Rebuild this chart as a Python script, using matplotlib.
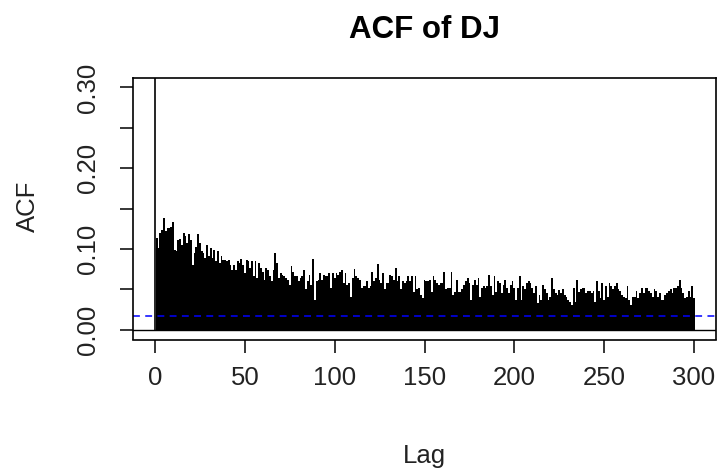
import numpy as np
import matplotlib
matplotlib.use("Agg")
import matplotlib.pyplot as plt

plt.rcParams['font.family'] = ['Liberation Sans', 'DejaVu Sans']

title = "ACF of DJ"
xlabel = "Lag"
ylabel = "ACF"
ci_level = 0.0165
acf_lag0 = 1.0
acf_values = [
    0.114, 0.101, 0.120, 0.124, 0.139, 0.122, 0.126, 0.126, 0.127, 0.133,
    0.099, 0.097, 0.111, 0.113, 0.105, 0.120, 0.116, 0.107, 0.118, 0.111,
    0.080, 0.095, 0.103, 0.118, 0.107, 0.097, 0.095, 0.089, 0.105, 0.091,
    0.101, 0.089, 0.099, 0.085, 0.097, 0.083, 0.091, 0.087, 0.087, 0.085,
    0.087, 0.080, 0.074, 0.080, 0.074, 0.085, 0.083, 0.088, 0.080, 0.070,
    0.087, 0.085, 0.076, 0.085, 0.066, 0.085, 0.064, 0.083, 0.076, 0.072,
    0.062, 0.076, 0.074, 0.066, 0.060, 0.074, 0.095, 0.083, 0.064, 0.070,
    0.068, 0.066, 0.064, 0.062, 0.056, 0.079, 0.072, 0.066, 0.066, 0.060,
    0.064, 0.066, 0.074, 0.050, 0.060, 0.068, 0.056, 0.088, 0.037, 0.060,
    0.062, 0.070, 0.062, 0.068, 0.066, 0.066, 0.070, 0.052, 0.070, 0.064,
    0.070, 0.068, 0.072, 0.074, 0.058, 0.070, 0.056, 0.058, 0.041, 0.064,
    0.075, 0.066, 0.064, 0.062, 0.052, 0.054, 0.054, 0.060, 0.052, 0.054,
    0.072, 0.060, 0.064, 0.081, 0.062, 0.058, 0.070, 0.050, 0.058, 0.058,
    0.068, 0.066, 0.062, 0.077, 0.060, 0.066, 0.050, 0.060, 0.058, 0.060,
    0.066, 0.060, 0.066, 0.047, 0.066, 0.050, 0.052, 0.043, 0.039, 0.062,
    0.060, 0.060, 0.062, 0.047, 0.066, 0.062, 0.058, 0.056, 0.058, 0.058,
    0.072, 0.050, 0.052, 0.052, 0.072, 0.043, 0.047, 0.062, 0.047, 0.047,
    0.050, 0.056, 0.060, 0.064, 0.058, 0.037, 0.056, 0.062, 0.056, 0.064,
    0.041, 0.052, 0.054, 0.052, 0.054, 0.068, 0.054, 0.043, 0.066, 0.047,
    0.060, 0.058, 0.045, 0.056, 0.062, 0.052, 0.045, 0.056, 0.060, 0.052,
    0.037, 0.052, 0.066, 0.037, 0.054, 0.050, 0.058, 0.060, 0.058, 0.052,
    0.045, 0.054, 0.033, 0.043, 0.037, 0.056, 0.050, 0.045, 0.037, 0.041,
    0.064, 0.050, 0.045, 0.043, 0.049, 0.045, 0.050, 0.043, 0.041, 0.037,
    0.035, 0.031, 0.052, 0.035, 0.062, 0.047, 0.050, 0.052, 0.052, 0.045,
    0.048, 0.048, 0.045, 0.048, 0.035, 0.060, 0.048, 0.039, 0.058, 0.037,
    0.054, 0.041, 0.058, 0.054, 0.050, 0.054, 0.058, 0.050, 0.048, 0.043,
    0.041, 0.039, 0.054, 0.037, 0.031, 0.041, 0.041, 0.048, 0.039, 0.045,
    0.052, 0.045, 0.052, 0.052, 0.048, 0.045, 0.041, 0.050, 0.048, 0.041,
    0.045, 0.037, 0.037, 0.043, 0.045, 0.048, 0.050, 0.045, 0.052, 0.052,
    0.054, 0.062, 0.052, 0.045, 0.039, 0.041, 0.048, 0.041, 0.054, 0.039,
]
lags = np.arange(1, len(acf_values) + 1)
xticks = [0, 50, 100, 150, 200, 250, 300]
yticks = [0.00, 0.05, 0.10, 0.15, 0.20, 0.25, 0.30]
ytick_labels = ["0.00", "", "0.10", "", "0.20", "", "0.30"]

W, H = 718, 471
fig = plt.figure(figsize=(W / 100, H / 100), dpi=100)
ax = fig.add_axes([133.4 / W, 1 - 339.5 / H, 582.2 / W, 261.7 / H])

ax.bar(lags, acf_values, width=1.0, color='black', linewidth=0)
ax.vlines([0], 0, acf_lag0, color='black', lw=1.2)
ax.axhline(0, color='black', lw=1.0)
ax.axhline(ci_level, color='blue', lw=1.1, linestyle=(0, (4.5, 3.5)))
ax.axhline(-ci_level, color='blue', lw=1.1, linestyle=(0, (4.5, 3.5)))

ax.set_xlim(-12, 312)
ax.set_ylim(-0.012, 0.312)
ax.set_xticks(xticks)
ax.set_xticklabels([str(t) for t in xticks])
ax.set_yticks(yticks)
ax.set_yticklabels(ytick_labels)
for s in ax.spines.values():
    s.set_linewidth(1.2)
ax.tick_params(axis='both', length=9.4, width=1.1, labelsize=18.5,
               colors='black', labelcolor='#222222')
ax.tick_params(axis='x', pad=10)
ax.tick_params(axis='y', pad=15)
plt.setp(ax.get_yticklabels(), rotation=90, va='center')

cx = (133.4 + 582.2 / 2) / W
fig.text(cx, 1 - 38 / H, title, ha='center', va='baseline', fontsize=22.5, fontweight='bold')
fig.text(cx, 1 - 463 / H, xlabel, ha='center', va='baseline', fontsize=18.5, color='#222222')
fig.text(28 / W, 1 - 206 / H, ylabel, ha='center', va='center', rotation=90,
         fontsize=18.5, color='#222222')

fig.savefig("out.png", dpi=100)
